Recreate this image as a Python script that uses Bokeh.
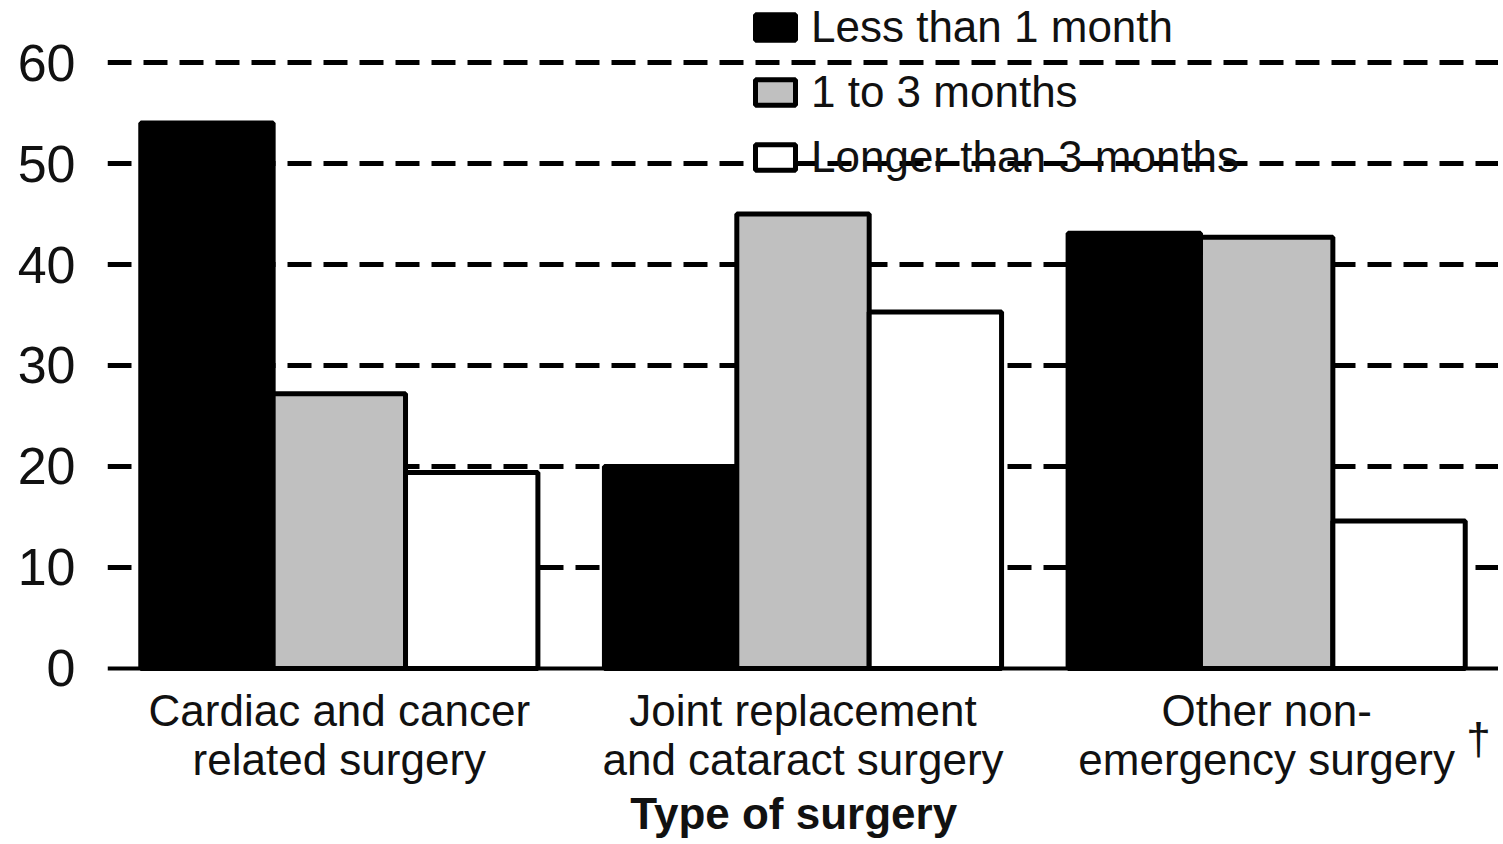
from bokeh.plotting import figure
from bokeh.models import FactorRange, Range1d, Legend, LegendItem, Span, ColumnDataSource
from bokeh.core.properties import value
from bokeh.transform import dodge
from bokeh.embed import file_html
from bokeh.resources import INLINE

# ---- data ----
categories = ["Cardiac and cancer\nrelated surgery",
              "Joint replacement\nand cataract surgery",
              "Other non-\nemergency surgery"]
less_than_1_month = [54.0, 20.0, 43.1]
one_to_3_months = [27.2, 45.0, 42.7]
longer_than_3_months = [19.4, 35.3, 14.6]
series_names = ["Less than 1 month", "1 to 3 months", "Longer than 3 months"]
y_ticks = [0, 10, 20, 30, 40, 50, 60]
grid_ticks = [10, 20, 30, 40, 50, 60]
x_title = "Type of surgery"
note_mark = "\u2020"

FONT = "Liberation Sans"
TXT = "#111111"

src = ColumnDataSource(dict(cat=categories, a=less_than_1_month,
                            b=one_to_3_months, c=longer_than_3_months))

p = figure(width=1498, height=842, output_backend="svg", toolbar_location=None,
           x_range=FactorRange(*categories), y_range=Range1d(-17.23, 66.14),
           min_border_left=107, min_border_right=0, min_border_top=0,
           min_border_bottom=0)
p.outline_line_color = None
p.background_fill_color = "white"

# grid (behind bars)
p.xgrid.grid_line_color = None
p.ygrid.grid_line_color = "black"
p.ygrid.grid_line_width = 5
p.ygrid.grid_line_dash = "24 12"
p.ygrid.ticker = grid_ticks

bw = 0.2855
fills = ["black", "#c0c0c0", "white"]
cols = ["a", "b", "c"]
offs = [-bw, 0.0, bw]
rends = []
for col, off, fc in zip(cols, offs, fills):
    r = p.vbar(x=dodge("cat", off, range=p.x_range), top=col, bottom=0, width=bw,
               source=src, fill_color=fc, line_color="black", line_width=5)
    rends.append(r)

# baseline (value axis zero)
p.add_layout(Span(location=0, dimension="width", line_color="black", line_width=4))

# y axis
p.yaxis.ticker = y_ticks
p.yaxis.axis_line_color = None
p.yaxis.major_tick_line_color = None
p.yaxis.minor_tick_line_color = None
p.yaxis.major_label_text_font = FONT
p.yaxis.major_label_text_font_size = "52px"
p.yaxis.major_label_text_color = TXT
p.yaxis.major_label_standoff = 26

# x axis drawn as text inside the frame
p.xaxis.visible = False

p.text(x=categories, y=[-6.63] * len(categories), text=categories,
       text_font=value(FONT), text_font_size="44px", text_color=TXT,
       text_align="center", text_baseline="middle", text_line_height=1.0)
p.text(x=[1.48], y=[-14.36], text=[x_title],
       text_font=value(FONT), text_font_size="44px", text_font_style="bold",
       text_color=TXT, text_align="center", text_baseline="middle")
p.text(x=[2.957], y=[-6.93], text=[note_mark],
       text_font=value(FONT), text_font_size="44px", text_color=TXT,
       text_align="center", text_baseline="middle")

legend = Legend(items=[LegendItem(label=n, renderers=[r]) for n, r in zip(series_names, rends)],
                location=(643, 660), orientation="vertical",
                background_fill_alpha=0, border_line_color=None,
                glyph_width=50, glyph_height=32, label_standoff=11, spacing=15,
                padding=0, margin=0,
                label_text_font=FONT, label_text_font_size="44px",
                label_text_color=TXT)
p.add_layout(legend)

open("out.html", "w").write(file_html(p, INLINE))
